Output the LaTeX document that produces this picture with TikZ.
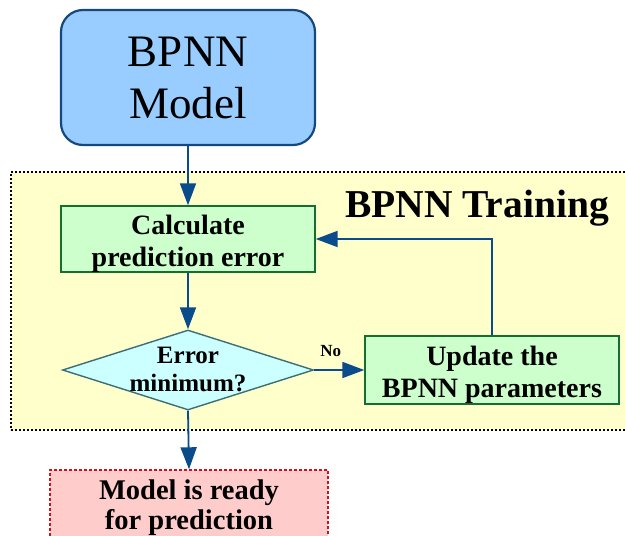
\documentclass[tikz,border=0pt]{standalone}
\usepackage{fontspec}
\setmainfont{Liberation Serif}
\usetikzlibrary{shapes.geometric,arrows.meta}
\definecolor{modelfill}{RGB}{153,204,255}
\definecolor{modeldraw}{RGB}{22,72,128}
\definecolor{trainfill}{RGB}{255,255,204}
\definecolor{calcfill}{RGB}{204,255,204}
\definecolor{calcdraw}{RGB}{20,110,50}
\definecolor{decfill}{RGB}{204,255,255}
\definecolor{decdraw}{RGB}{60,110,120}
\definecolor{readyfill}{RGB}{255,204,204}
\definecolor{readydraw}{RGB}{200,20,30}
\definecolor{arrcol}{RGB}{10,75,140}
\tikzset{
  modelbox/.style={draw=modeldraw, fill=modelfill, line width=2.2pt, rounded corners=22pt,
    minimum width=254pt, minimum height=135pt, align=center, inner sep=0pt,
    font=\fontsize{45}{52}\selectfont},
  trainbox/.style={draw=black, fill=trainfill, line width=1.4pt, dash pattern=on 2pt off 2pt,
    minimum width=622pt, minimum height=258pt, inner sep=0pt},
  stepbox/.style={draw=calcdraw, fill=calcfill, line width=1.4pt, align=center, inner sep=0pt,
    minimum width=254pt, font=\bfseries\fontsize{28}{32}\selectfont},
  decbox/.style={shape=diamond, draw=decdraw, fill=decfill, line width=1.4pt, inner sep=0pt,
    minimum width=251pt, minimum height=80pt},
  dectext/.style={align=center, inner sep=0pt, font=\bfseries\fontsize{25}{28}\selectfont},
  readybox/.style={draw=readydraw, fill=readyfill, line width=1.4pt, dash pattern=on 3pt off 2pt,
    minimum width=278pt, minimum height=76pt, align=center, inner sep=0pt,
    font=\bfseries\fontsize{28.5}{30}\selectfont},
  arr/.style={draw=arrcol, line width=1.8pt, -{Triangle[length=22pt,width=16pt]}},
  x=1pt, y=-1pt
}
\begin{document}
\begin{tikzpicture}
\useasboundingbox (0,0) rectangle (625,536);
\clip (0,0) rectangle (625,536);
\node[trainbox] (train) at (322,301) {};
\node[font=\bfseries\fontsize{39.5}{44}\selectfont, anchor=center] (traintitle) at (477,208) {BPNN Training};
\node[modelbox] (model) at (188,77.5) {BPNN\\Model};
\node[stepbox, minimum height=66pt] (calc) at (188,239) {\rule{0pt}{28pt}Calculate\\prediction error};
\node[decbox] (dec) at (188,370) {};
\node[dectext] (dectxt) at (188,369) {Error\\minimum?};
\node[stepbox, minimum height=68pt] (upd) at (492,370) {\rule{0pt}{28pt}Update the\\BPNN parameters};
\node[readybox] (ready) at (189,508) {Model is ready\\for prediction};
\draw[arr] (model.south) -- (calc.north);
\draw[arr] (calc.south) -- (dec.north);
\draw[arr] (dec.east) -- node[above=9pt, pos=0.33, font=\bfseries\fontsize{17}{20}\selectfont] (no) {No} (upd.west);
\draw[arr] (upd.north) |- (calc.east);
\draw[arr] (dec.south) -- (ready.north);
\end{tikzpicture}
\end{document}
